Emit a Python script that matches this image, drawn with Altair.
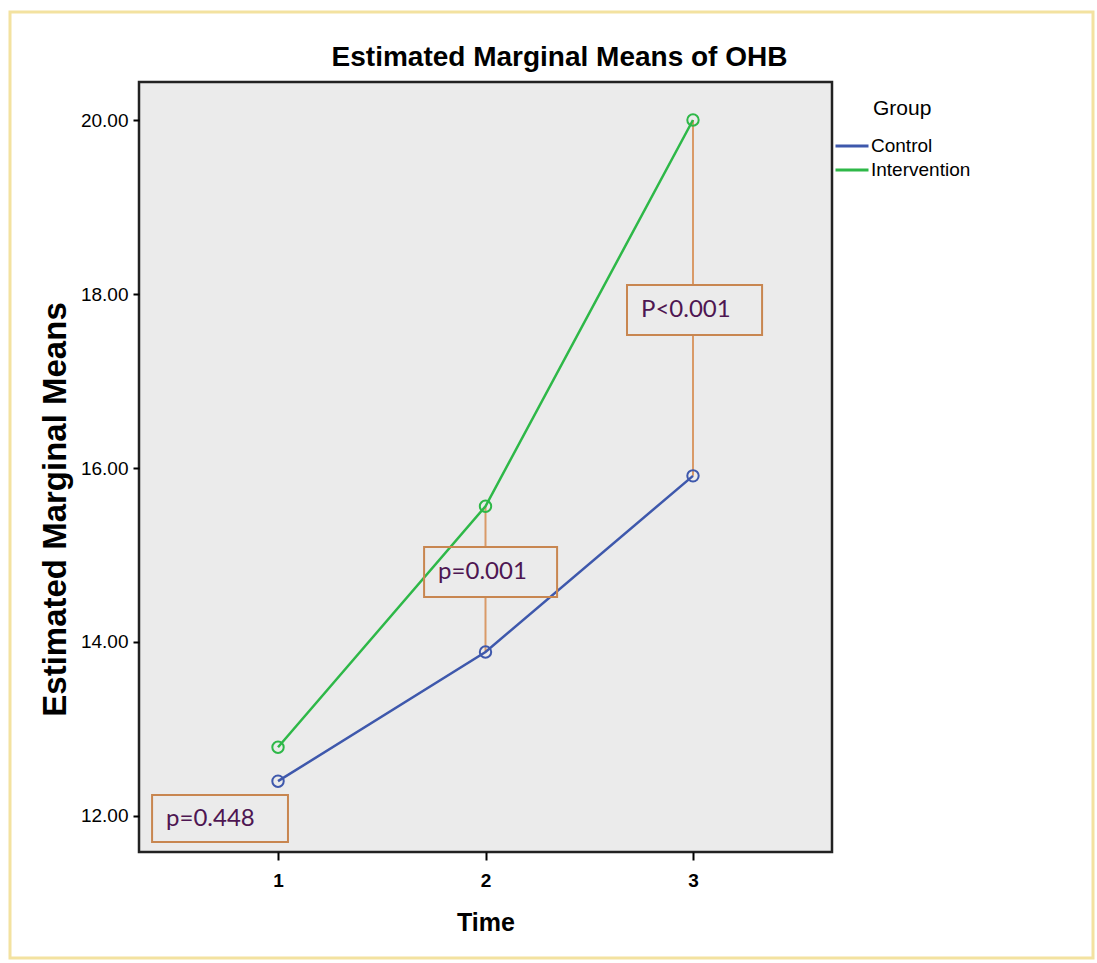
import altair as alt
import pandas as pd

# ---- data ----
times = [1, 2, 3]
groups = ["Control", "Intervention"]
control_means = [12.40, 13.885, 15.91]
intervention_means = [12.79, 15.56, 20.00]
group_colors = ["#3e58ac", "#2eb848"]

# annotation boxes (data coordinates)
p_labels = ["p=0.448", "p=0.001", "P<0.001"]
box_time_left = [0.393, 1.704, 2.682]
box_time_right = [1.048, 2.345, 3.333]
box_mean_low = [11.70, 14.517, 17.529]
box_mean_high = [12.241, 15.092, 18.103]
connector_index = [1, 2]  # time points with connector lines

y_ticks = [12, 14, 16, 18, 20]

# ---- tables ----
lines_df = pd.DataFrame({
    "Time": times * 2,
    "Mean": control_means + intervention_means,
    "Group": [groups[0]] * 3 + [groups[1]] * 3,
})

boxes_df = pd.DataFrame({
    "label": p_labels,
    "x1": box_time_left,
    "x2": box_time_right,
    "y1": box_mean_low,
    "y2": box_mean_high,
    "yc": [(a + b) / 2 for a, b in zip(box_mean_low, box_mean_high)],
})

seg_rows = []
for i in connector_index:
    seg_rows.append({"Time": times[i], "a": intervention_means[i], "b": box_mean_high[i]})
    seg_rows.append({"Time": times[i], "a": box_mean_low[i], "b": control_means[i]})
seg_df = pd.DataFrame(seg_rows)

FONT = "Liberation Sans"

x_scale = alt.Scale(domain=[0.33, 3.67], nice=False, zero=False)
y_scale = alt.Scale(domain=[11.586, 20.437], nice=False, zero=False)

x_axis = alt.Axis(values=times, format="d", title="Time", grid=False, domain=False,
                  tickColor="black", tickWidth=2, tickSize=8,
                  labelFont=FONT, labelFontSize=19, labelFontWeight="bold", labelColor="black",
                  labelPadding=11, titleFont=FONT, titleFontSize=25, titleFontWeight="bold",
                  titleColor="black", titlePadding=20)
y_axis = alt.Axis(values=y_ticks, format=".2f", title="Estimated Marginal Means", grid=False,
                  domain=False, tickColor="black", tickWidth=2, tickSize=6,
                  labelFont=FONT, labelFontSize=19, labelColor="black", labelPadding=5,
                  titleFont=FONT, titleFontSize=33, titleFontWeight="bold", titleColor="black",
                  titlePadding=8, titleY=427)

color = alt.Color("Group:N", scale=alt.Scale(domain=groups, range=group_colors),
                  legend=alt.Legend(title=None, orient="none", legendX=695, legendY=53,
                                    symbolType="stroke", symbolSize=1089, symbolStrokeWidth=3,
                                    labelFont=FONT, labelFontSize=19, labelColor="black",
                                    labelOffset=1, rowPadding=2, clipHeight=22))

base = alt.Chart(lines_df)

lines = base.mark_line(strokeWidth=2.5).encode(
    x=alt.X("Time:Q", scale=x_scale, axis=x_axis),
    y=alt.Y("Mean:Q", scale=y_scale, axis=y_axis),
    color=color,
)
points = base.mark_point(filled=False, size=130, strokeWidth=2, opacity=1).encode(
    x="Time:Q", y="Mean:Q",
    color=alt.Color("Group:N", scale=alt.Scale(domain=groups, range=group_colors), legend=None),
)

connectors = alt.Chart(seg_df).mark_rule(color="#d99a68", strokeWidth=2).encode(
    x="Time:Q", y="a:Q", y2="b:Q")

boxes = alt.Chart(boxes_df).mark_rect(fillOpacity=0, stroke="#c88650", strokeWidth=2).encode(
    x="x1:Q", x2="x2:Q", y="y1:Q", y2="y2:Q")

box_text = alt.Chart(boxes_df).mark_text(align="left", baseline="middle", dx=14, font="Lato",
                                         fontSize=24, color="#4e1652").encode(
    x="x1:Q", y="yc:Q", text="label:N")

legend_title = alt.Chart(pd.DataFrame({"t": ["Group"]})).mark_text(
    align="left", baseline="alphabetic", font=FONT, fontSize=21, color="black").encode(
    x=alt.value(734), y=alt.value(33), text="t:N")

border = alt.Chart(pd.DataFrame({"t": [0]})).mark_rect(
    fillOpacity=0, stroke="#f3e2a0", strokeWidth=3).encode(
    x=alt.value(-129), x2=alt.value(954), y=alt.value(-70), y2=alt.value(876))

chart = alt.layer(border, connectors, lines, points, boxes, box_text, legend_title).properties(
    width=693, height=770,
    title=alt.TitleParams("Estimated Marginal Means of OHB", font=FONT, fontSize=28,
                          fontWeight="bold", color="black", anchor="middle", dx=74, offset=-61),
    autosize=alt.AutoSizeParams(type="none"),
    padding={"left": 139, "top": 82, "right": 265, "bottom": 111},
    background="white",
).configure_view(stroke="#222222", strokeWidth=2.5, fill="#ebebeb")

chart.save("out.html", embed_options={"renderer": "svg", "actions": False})
